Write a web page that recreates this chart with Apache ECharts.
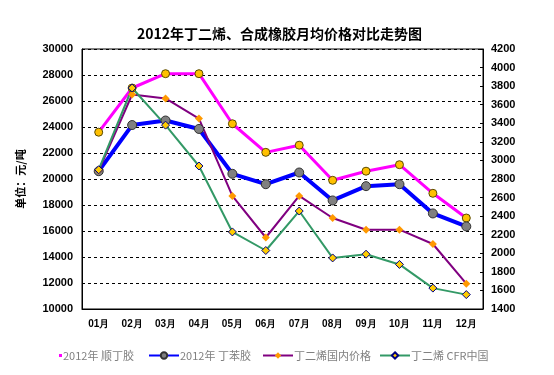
<!DOCTYPE html>
<html><head><meta charset="utf-8">
<script src="https://cdn.jsdelivr.net/npm/echarts@6/dist/echarts.min.js"></script>
<style>html,body{margin:0;padding:0;background:#fff}#c{width:554px;height:375px}</style>
</head><body><div id="c"></div>
<script>
var months = ['01月','02月','03月','04月','05月','06月','07月','08月','09月','10月','11月','12月'];
var brNames = ['2012年 顺丁胶','2012年 丁苯胶','丁二烯国内价格','丁二烯 CFR中国'];
var br = [23600, 27000, 28100, 28100, 24250, 22050, 22600, 19900, 20600, 21100, 18900, 17000];
var sbr = [20600, 24150, 24500, 23850, 20400, 19600, 20500, 18350, 19450, 19600, 17350, 16350];
var bdDomestic = [20650, 26500, 26200, 24650, 18700, 15500, 18700, 17000, 16100, 16100, 15000, 11950];
var bdCfr = [2900, 3780, 3380, 2940, 2230, 2030, 2455, 1950, 1990, 1880, 1625, 1555];

var chart = echarts.init(document.getElementById('c'), null, {renderer:'canvas'});
var font = 'Liberation Sans, Arial, sans-serif';
var cjk = '"Noto Sans CJK SC", sans-serif';
function legendAt(left, item, w, h) {
  return {
    left: left, top: 350, itemWidth: w, itemHeight: h, itemGap: 0,
    data: [item],
    textStyle: {color: '#808080', fontSize: 11, fontFamily: cjk, padding: [0,0,0,-4]},
    selectedMode: false, padding: 0
  };
}
function plain(v) { return String(v); }
chart.setOption({
  backgroundColor: '#fff',
  animation: false,
  title: {
    text: '2012年丁二烯、合成橡胶月均价格对比走势图', left: 132, top: 22,
    textStyle: {fontSize: 14, fontWeight: 'bold', fontFamily: cjk, color: '#000'}
  },
  legend: [
    legendAt(59, {name: brNames[0], icon: 'rect', itemStyle: {color: '#FF00FF', borderWidth: 0}}, 3, 3),
    legendAt(148, {name: brNames[1]}, 30, 8),
    legendAt(262, {name: brNames[2]}, 30, 8),
    legendAt(379, {name: brNames[3]}, 30, 8)
  ],
  grid: {left: 82, right: 71, top: 49, bottom: 66, show: true, borderColor: '#000', borderWidth: 1},
  xAxis: {
    type: 'category', data: months, boundaryGap: true,
    axisLine: {lineStyle: {color: '#000', width: 1}},
    axisTick: {inside: true, length: 4, lineStyle: {color: '#000'}},
    axisLabel: {color: '#000', fontSize: 10, fontWeight: 'bold', fontFamily: font, margin: 10}
  },
  yAxis: [{
    type: 'value', min: 10000, max: 30000, interval: 2000,
    name: '单位：元/吨', nameLocation: 'middle', nameRotate: 90, nameGap: 56,
    nameTextStyle: {fontSize: 11, fontWeight: 'bold', fontFamily: cjk, color: '#000'},
    axisLine: {show: true, lineStyle: {color: '#000'}},
    axisTick: {show: false},
    axisLabel: {color: '#000', fontSize: 11, fontWeight: 'bold', fontFamily: font, margin: 9, formatter: plain},
    splitLine: {show: true, lineStyle: {color: '#000', type: [3,3], width: 1}}
  }, {
    type: 'value', min: 1400, max: 4200, interval: 200, position: 'right',
    axisLine: {show: true, lineStyle: {color: '#000'}},
    axisTick: {show: true, inside: true, length: 3, lineStyle: {color: '#000'}},
    axisLabel: {color: '#000', fontSize: 11, fontWeight: 'bold', fontFamily: font, margin: 8, formatter: plain},
    splitLine: {show: false}
  }],
  series: [{
    name: brNames[0], type: 'line', data: br, yAxisIndex: 0,
    lineStyle: {color: '#FF00FF', width: 3}, itemStyle: {color: '#FFC000', borderColor: '#5a4a00', borderWidth: 1},
    symbol: 'circle', symbolSize: 8, color: '#FF00FF'
  }, {
    name: brNames[1], type: 'line', data: sbr, yAxisIndex: 0,
    lineStyle: {color: '#0000FF', width: 4}, itemStyle: {color: '#808080', borderColor: '#333', borderWidth: 1},
    symbol: 'circle', symbolSize: 9, color: '#0000FF'
  }, {
    name: brNames[2], type: 'line', data: bdDomestic, yAxisIndex: 0,
    lineStyle: {color: '#800080', width: 2}, itemStyle: {color: '#FF9900', borderWidth: 0},
    symbol: 'diamond', symbolSize: 8, color: '#800080'
  }, {
    name: brNames[3], type: 'line', data: bdCfr, yAxisIndex: 1,
    lineStyle: {color: '#339966', width: 2}, itemStyle: {color: '#FFCC00', borderColor: '#000080', borderWidth: 1},
    symbol: 'diamond', symbolSize: 8, color: '#339966'
  }]
});
</script></body></html>
